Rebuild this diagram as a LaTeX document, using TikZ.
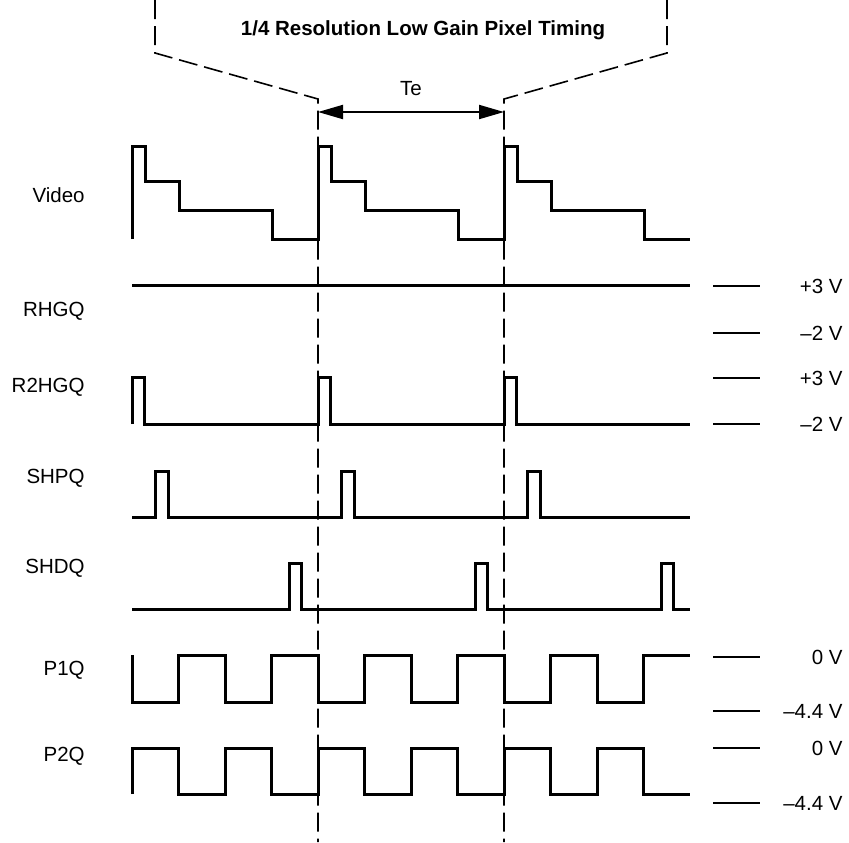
\documentclass[tikz,border=0pt]{standalone}
\usepackage{fontspec}
\setmainfont{Liberation Sans}
\usetikzlibrary{arrows.meta}
\tikzset{
  wave/.style       = {line width=1.5pt},
  guide/.style      = {line width=0.8pt, dash pattern=on 9.5pt off 3.5pt},
  tick/.style       = {line width=0.8pt},
  dim/.style        = {{Triangle[length=12.5pt,width=7pt]}-{Triangle[length=12.5pt,width=7pt]}, line width=1pt},
  every node/.style = {font=\fontsize{10.25}{12}\selectfont, inner sep=0pt},
  lbl/.style        = {anchor=east},
  volt/.style       = {anchor=east},
}
\begin{document}
\begin{tikzpicture}[x=0.5pt, y=-0.5pt]
  \useasboundingbox (0,0) rectangle (849,842);
  \node[font=\fontsize{10.25}{12}\selectfont\bfseries] (title) at (423,30) {1/4 Resolution Low Gain Pixel Timing};
  \draw[guide] (155,0) -- (155,53) -- (318,99) -- (318,842);
  \draw[guide] (667,0) -- (667,53) -- (504,99) -- (504,842);
  \coordinate (ta) at (318,112);
  \coordinate (tb) at (504,112);
  \draw[dim] (ta) -- (tb);
  \node (te) at (411,89) {Te};
  \node[lbl] (video) at (85,195) {Video};
  \node[lbl] (rhgq) at (85,311) {RHGQ};
  \node[lbl] (r2hgq) at (85,387) {R2HGQ};
  \node[lbl] (shpq) at (85,478) {SHPQ};
  \node[lbl] (shdq) at (85,568) {SHDQ};
  \node[lbl] (p1q) at (85,670) {P1Q};
  \node[lbl] (p2q) at (85,756) {P2Q};
  \draw[wave] (132,239) \foreach \p in {132,318,504} {
    -- (\p,146) -- ++(13,0) -- ++(0,35) -- ++(34,0) -- ++(0,29) -- ++(93,0) -- ++(0,29) -- ++(46,0) };
  \draw[wave] (132,285) -- (690,285);
  \draw[wave] (132,424) \foreach \p in {132,318,504} {
    -- (\p,377) -- ++(12,0) -- ++(0,47) -- ++(174,0) };
  \draw[wave] (132,517) \foreach \p in {132,318,504} {
    -- ({\p+23.5},517) -- ++(0,-46) -- ++(12.5,0) -- ++(0,46) } -- (690,517);
  \draw[wave] (132,609) \foreach \p in {132,318,504} {
    -- ({\p+157.5},609) -- ++(0,-46) -- ++(11.5,0) -- ++(0,46) } -- (690,609);
  \draw[wave] (132,655) \foreach \p in {132,318,504} {
    -- (\p,702) -- ++(46.5,0) -- ++(0,-47) -- ++(46.5,0) -- ++(0,47) -- ++(46.5,0) -- ++(0,-47) -- ++(46.5,0) };
  \draw[wave] (132,794) \foreach \p in {132,318,504} {
    -- (\p,748) -- ++(46.5,0) -- ++(0,46) -- ++(46.5,0) -- ++(0,-46) -- ++(46.5,0) -- ++(0,46) -- ++(46.5,0) };
  \foreach \y/\t [count=\i] in {286/+3 V, 333/\textendash2 V, 378/+3 V, 424/\textendash2 V,
                                 657/0 V, 711/\textendash4.4 V, 748/0 V, 803/\textendash4.4 V} {
    \draw[tick] (713,\y) -- (760,\y);
    \node[volt] (v\i) at (843,\y) {\t};
  }
\end{tikzpicture}
\end{document}
